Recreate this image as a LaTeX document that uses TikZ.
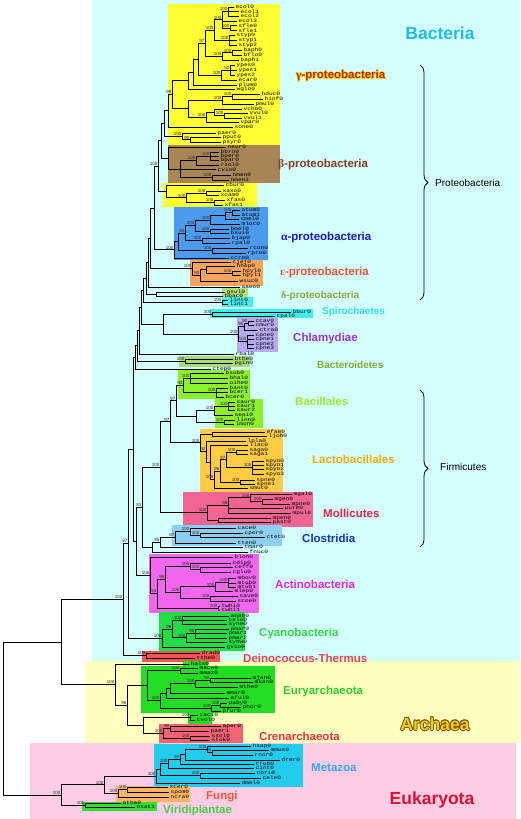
\documentclass[tikz,border=0pt]{standalone}
\usepackage{fontspec}
\setmainfont{Liberation Sans}
\newfontfamily\leaffont[FakeStretch=1.22]{Liberation Mono}
\newfontfamily\greekfont{Liberation Serif}
\usetikzlibrary{calc,decorations.pathreplacing}
\definecolor{bgB}{HTML}{D4FFFF}
\definecolor{bgA}{HTML}{FFFFC0}
\definecolor{bgE}{HTML}{FFCCE6}
\definecolor{bxGam}{HTML}{FFFF33}
\definecolor{bxBet}{HTML}{A98556}
\definecolor{bxAlp}{HTML}{4D9BEF}
\definecolor{bxEps}{HTML}{F5A45A}
\definecolor{bxDel}{HTML}{B4E07A}
\definecolor{bxSpi}{HTML}{44EEEE}
\definecolor{bxChl}{HTML}{B9A9F2}
\definecolor{bxBct}{HTML}{A8DC78}
\definecolor{bxBac}{HTML}{8CF02E}
\definecolor{bxLac}{HTML}{FFCC44}
\definecolor{bxMol}{HTML}{F26492}
\definecolor{bxClo}{HTML}{8CCFF0}
\definecolor{bxAct}{HTML}{F266F0}
\definecolor{bxCya}{HTML}{22DD44}
\definecolor{bxDei}{HTML}{F25555}
\definecolor{bxEur}{HTML}{22DD22}
\definecolor{bxCre}{HTML}{F26474}
\definecolor{bxMet}{HTML}{22CCEE}
\definecolor{bxFun}{HTML}{FFB565}
\definecolor{bxVir}{HTML}{33DD33}
\definecolor{tBac}{HTML}{22BBEE}
\definecolor{tGam}{HTML}{B42818}
\definecolor{tGamO}{HTML}{FFD800}
\definecolor{tBet}{HTML}{8E3A22}
\definecolor{tAlp}{HTML}{1A1ACC}
\definecolor{tEps}{HTML}{EE5533}
\definecolor{tDel}{HTML}{88AA33}
\definecolor{tSpi}{HTML}{33DDEE}
\definecolor{tChl}{HTML}{9933DD}
\definecolor{tBacl}{HTML}{99EE33}
\definecolor{tLac}{HTML}{FFAA00}
\definecolor{tMol}{HTML}{EE2244}
\definecolor{tClo}{HTML}{1133BB}
\definecolor{tAct}{HTML}{EE22DD}
\definecolor{tCya}{HTML}{33DD44}
\definecolor{tDei}{HTML}{EE4444}
\definecolor{tEur}{HTML}{33CC33}
\definecolor{tArc}{HTML}{FFCC00}
\definecolor{tArcO}{HTML}{6B5000}
\definecolor{tCre}{HTML}{EE3344}
\definecolor{tMet}{HTML}{33AAEE}
\definecolor{tEuk}{HTML}{DD1133}
\definecolor{tFun}{HTML}{FF5533}
\definecolor{tVir}{HTML}{44CC44}
\tikzset{
  edge/.style={line width=0.75pt, line cap=rect, black},
  leaf/.style={anchor=west, inner sep=0pt, xshift=1.5pt, font=\leaffont\fontsize{5}{5}\selectfont},
  bsl/.style={anchor=south east, inner sep=0.1pt, xshift=-0.3pt, yshift=0.4pt, font=\fontsize{4.5}{4.5}\selectfont, text=black!85},
  clade/.style={anchor=west, inner sep=0pt, font=\bfseries\fontsize{11.5}{12}\selectfont},
  plain/.style={anchor=west, inner sep=0pt, font=\fontsize{10}{11}\selectfont},
  big/.style={inner sep=0pt, font=\bfseries\fontsize{17.5}{18}\selectfont},
  bracestyle/.style={decorate, decoration={brace, amplitude=8pt}, line width=0.8pt},
}
\newcommand\lf[3]{\coordinate (#1) at (#2,#3); \node[leaf] (#1-t) at (#1) {#1};}
\newcommand\nd[4]{%
  \global\let\firstkid\relax
  \foreach \kid in {#4}{\ifx\firstkid\relax\xdef\firstkid{\kid}\fi\xdef\lastkid{\kid}}%
  \path let \p1=($(\firstkid)!0.5!(\lastkid)$) in coordinate (#1) at (#2pt,\y1);
  \foreach \kid in {#4}{\draw[edge] (#1) |- (\kid);}%
  \if\relax\detokenize{#3}\relax\else\node[bsl] (#1-b) at (#1) {#3};\fi}
\begin{document}
\begin{tikzpicture}[x=1pt,y=-1pt]
\useasboundingbox (0,0) rectangle (520,819);
\fill[white] (0,0) rectangle (520,819);
\fill[bgB] (92,0) rectangle (520,661);
\fill[bgA] (85,661) rectangle (520,743);
\fill[bgE] (30,743) rectangle (516,819);
% clade boxes
\fill[bxGam] (168,4) rectangle (280,145);
\fill[bxBet] (168,145) rectangle (280,183);
\fill[bxGam] (163,183) rectangle (257,207);
\fill[bxAlp] (174,207) rectangle (268,260);
\fill[bxEps] (190,260) rectangle (263,286);
\fill[bxDel] (222,288) rectangle (248,298);
\fill[bxSpi] (222,297) rectangle (253,307);
\fill[bxSpi] (210,309) rectangle (313,318);
\fill[bxChl] (237,318) rectangle (278,352);
\fill[bxBct] (179,356) rectangle (250,367);
\fill[bxBac] (178,370) rectangle (250,399);
\fill[bxBac] (215,399) rectangle (263,428);
\fill[bxLac] (200,429) rectangle (283,492);
\fill[bxMol] (183,492) rectangle (313,527);
\fill[bxClo] (172,525) rectangle (282,546);
\fill[bxAct] (149,554) rectangle (259,613);
\fill[bxCya] (159,612) rectangle (245,651);
\fill[bxDei] (142,651) rectangle (220,662);
\fill[bxEur] (183,661) rectangle (208,667);
\fill[bxEur] (141,666) rectangle (275,713);
\fill[bxEur] (188,713) rectangle (212,724);
\fill[bxCre] (159,724) rectangle (243,743);
\fill[bxMet] (154,744) rectangle (303,787);
\fill[bxFun] (116,786) rectangle (190,802);
\fill[bxVir] (82,802) rectangle (157,811);
% leaves
\lf{ecol0}{234}{7}\lf{ecol1}{239}{11.5}\lf{ecol2}{239}{16}\lf{ecol3}{237}{21}
\lf{sfle0}{237}{25.5}\lf{sfle1}{237}{30.5}\lf{styp0}{235}{35}\lf{styp1}{237}{40}
\lf{styp2}{237}{45}\lf{baph0}{242}{50.5}\lf{bflo0}{242}{55}\lf{baph1}{239}{60}
\lf{ypes0}{235}{65}\lf{ypes1}{237}{70}\lf{ypes2}{235}{75}\lf{ecar0}{237}{80}
\lf{plum0}{237}{85}\lf{wglo0}{235}{89}\lf{hduc0}{260}{94}\lf{hinf0}{263}{99}
\lf{pmul0}{254}{104}\lf{vcho0}{242}{109}\lf{vvul0}{248}{113}\lf{vvul1}{242}{118}
\lf{vpar0}{239}{122}\lf{sone0}{233}{127}\lf{paer0}{216}{133}\lf{pput0}{221}{137.5}
\lf{psyr0}{221}{142}
\lf{neur0}{226}{147}\lf{bbro0}{219}{152}\lf{bper0}{219}{156}\lf{bpar0}{219}{160.5}
\lf{rsol0}{219}{165}\lf{cvio0}{216}{169.5}\lf{nmen0}{231}{175}\lf{nmen1}{229}{180}
\lf{cbur0}{224}{185}\lf{xaxo0}{221}{191}\lf{xcam0}{219}{195}\lf{xfas0}{225}{200}\lf{xfas1}{223}{205}
\lf{atum0}{240}{210}\lf{atum1}{240}{215}\lf{smel0}{239}{219}\lf{mlot0}{240}{224}
\lf{bmel0}{229}{229}\lf{bsui0}{229}{233}\lf{bjap0}{230}{238}\lf{rpal0}{230}{243}
\lf{rcon0}{248}{248}\lf{rpro0}{246}{253}\lf{ccre0}{229}{258}
\lf{cjej0}{231}{262}\lf{hhep0}{235}{266.5}\lf{hpyl0}{241}{271}\lf{hpyl1}{241}{275}
\lf{wsuc0}{238}{281}\lf{aaeo0}{240}{287}
\lf{gsul0}{225}{292}\lf{bbac0}{223}{296}
\lf{lint0}{228}{300}\lf{lint1}{228}{304}\lf{bbur0}{291}{312}\lf{tpal0}{275}{316}
\lf{ccav0}{254}{321}\lf{cmur0}{254}{325}\lf{ctra0}{258}{330}\lf{cpne0}{254}{335}
\lf{cpne1}{254}{339}\lf{cpne2}{254}{344}\lf{cpne3}{254}{348}
\lf{rbal0}{234}{354}\lf{bthe0}{233}{359}\lf{pgin0}{233}{363}\lf{ctep0}{211}{369}
\lf{bsub0}{224}{373}\lf{bhal0}{228}{378}\lf{oihe0}{228}{383}\lf{bant0}{228}{388}
\lf{bcer1}{228}{392}\lf{bcer0}{224}{397}\lf{saur0}{235}{402}\lf{saur1}{235}{406}
\lf{saur2}{235}{410}\lf{sepi0}{233}{415}\lf{linn0}{235}{420}\lf{lmon0}{234}{424}
\lf{efae0}{265}{432}\lf{ljoh0}{267}{436}\lf{lpla0}{246}{441}\lf{llac0}{248}{445}
\lf{saga0}{248}{450}\lf{saga1}{248}{454}\lf{spyo0}{264}{461}\lf{spyo1}{264}{465}
\lf{spyo2}{264}{469}\lf{spyo3}{264}{474}\lf{spne0}{255}{480}\lf{spne1}{255}{484}
\lf{smut0}{248}{488}
\lf{mgal0}{292}{494}\lf{mgen0}{273}{499}\lf{mpne0}{290}{504}\lf{uure0}{283}{508}
\lf{mpul0}{291}{513}\lf{mpen0}{271}{518}\lf{past0}{271}{522}
\lf{cace0}{236}{528}\lf{cper0}{243}{533}\lf{ctet0}{265}{537}\lf{tten0}{236}{543}
\lf{tmar0}{243}{547}\lf{fnuc0}{248}{552}
\lf{blon0}{233}{557}\lf{cdip0}{231}{563}\lf{ceff0}{233}{567}\lf{cglu0}{231}{572}
\lf{mbov0}{236}{578}\lf{mtub0}{236}{583}\lf{mtub1}{236}{587}\lf{mlep0}{233}{591}
\lf{save0}{238}{596}\lf{scoe0}{236}{601}\lf{twhi0}{220}{606}\lf{twhi1}{220}{610}
\lf{anab0}{229}{616}\lf{telo0}{227}{620}\lf{syne0}{227}{624}\lf{pmar0}{229}{629}
\lf{pmar1}{227}{633}\lf{pmar2}{227}{638}\lf{synw0}{227}{642}\lf{gvio0}{225}{647}
\lf{drad0}{200}{653}\lf{tthe0}{195}{658}
\lf{hals0}{189}{664}\lf{mace0}{198}{668}\lf{mmaz0}{198}{673}\lf{mjan0}{251}{678}
\lf{mkan0}{253}{682}\lf{mthe0}{238}{687}\lf{mmar0}{225}{693}\lf{aful0}{229}{698}
\lf{paby0}{227}{703}\lf{phor0}{241}{707}\lf{pfur0}{221}{711}\lf{taci0}{198}{715}
\lf{tvol0}{195}{720}\lf{aper0}{221}{726}\lf{paer1}{209}{731}\lf{ssol0}{210}{736}
\lf{stok0}{210}{740}
\lf{hsap0}{251}{746}\lf{mmus0}{269}{750}\lf{rnor0}{253}{755}\lf{drer0}{280}{760}
\lf{trub0}{254}{764}\lf{cint0}{254}{768}\lf{cbri0}{255}{773}\lf{cele0}{261}{778}
\lf{dmel0}{240}{783}\lf{scer0}{168}{787}\lf{spom0}{169}{792}\lf{ncra0}{169}{797}
\lf{atha0}{121}{803}\lf{osat1}{135}{807}
% gamma
\nd{E1}{228}{100}{ecol0,ecol1,ecol2}
\nd{S1}{230}{100}{sfle0,sfle1}
\nd{E2}{222}{100}{E1,ecol3,S1}
\nd{ST}{229}{100}{styp0,styp1,styp2}
\nd{E3}{214}{100}{E2,ST}
\nd{BU1}{232}{100}{baph0,bflo0}
\nd{BU}{222}{100}{BU1,baph1}
\nd{EN1}{205}{97}{E3,BU}
\nd{YP}{230}{50}{ypes0,ypes1,ypes2}
\nd{YP2}{221}{100}{YP,ecar0}
\nd{EN2}{198}{}{EN1,YP2}
\nd{EN3}{193}{}{EN2,plum0}
\nd{EN4}{188}{}{EN3,wglo0}
\nd{PA1}{232}{100}{hduc0,hinf0}
\nd{PA}{222}{100}{PA1,pmul0}
\nd{VB1}{224}{100}{vvul0,vvul1}
\nd{VB2}{214}{}{vcho0,VB1}
\nd{VB3}{206}{100}{VB2,vpar0}
\nd{PV}{188}{}{PA,VB3}
\nd{G1}{172}{99}{EN4,PV}
\nd{G2}{168}{}{G1,sone0}
\nd{PS1}{190}{90}{pput0,psyr0}
\nd{PS}{182}{100}{paer0,PS1}
\nd{G3}{164}{}{G2,PS}
% beta
\nd{BB1}{210}{100}{bbro0,bper0,bpar0}
\nd{BB2}{196}{100}{BB1,rsol0}
\nd{NM}{212}{100}{nmen0,nmen1}
\nd{BB3}{180}{}{BB2,cvio0,NM}
\nd{BE}{168}{}{neur0,BB3}
\nd{PB1}{161}{}{G3,BE}
\nd{XA1}{206}{100}{xaxo0,xcam0}
\nd{XF}{214}{100}{xfas0,xfas1}
\nd{XA}{186}{100}{XA1,XF}
\nd{XC}{166}{}{cbur0,XA}
\nd{PB2}{158}{100}{PB1,XC}
% alpha
\nd{AT}{232}{100}{atum0,atum1}
\nd{AT2}{225}{}{AT,smel0}
\nd{AT3}{210}{100}{AT2,mlot0}
\nd{BR}{210}{100}{bmel0,bsui0}
\nd{RH1}{195}{100}{AT3,BR}
\nd{BJ}{202}{100}{bjap0,rpal0}
\nd{AL1}{185}{92}{RH1,BJ}
\nd{RK}{212}{100}{rcon0,rpro0}
\nd{AL2}{178}{}{AL1,RK}
\nd{AL3}{174}{100}{AL2,ccre0}
\nd{PB3}{154}{}{PB2,AL3}
% epsilon etc
\nd{HP}{232}{100}{hpyl0,hpyl1}
\nd{HH}{206}{}{hhep0,HP}
\nd{HW}{200}{90}{HH,wsuc0}
\nd{EP}{192}{100}{cjej0,HW}
\nd{PB4}{150}{}{PB3,EP}
\nd{PB5}{148}{}{PB4,aaeo0}
\nd{DL}{156}{}{gsul0,bbac0}
\nd{PB6}{146}{}{PB5,DL}
\nd{LI}{222}{100}{lint0,lint1}
\nd{UP1}{143}{}{PB6,LI}
\nd{BT}{212}{100}{bbur0,tpal0}
\nd{CM1}{248}{90}{ccav0,cmur0}
\nd{CM2}{244}{90}{CM1,ctra0}
\nd{CP}{247}{100}{cpne0,cpne1,cpne2,cpne3}
\nd{CH}{238}{100}{CM2,CP}
\nd{SC}{163}{}{BT,CH}
\nd{UP2}{141}{}{UP1,SC}
\nd{UP3}{139}{}{UP2,rbal0}
\nd{BG}{185}{100}{bthe0,pgin0}
\nd{UP4}{137}{}{UP3,BG}
\nd{UP5}{135}{}{UP4,ctep0}
% firmicutes
\nd{BS}{190}{100}{bsub0,bhal0,oihe0}
\nd{BC1}{216}{100}{bant0,bcer1,bcer0}
\nd{BAS}{183}{90}{BS,BC1}
\nd{SA}{228}{100}{saur0,saur1,saur2}
\nd{SA2}{214}{100}{SA,sepi0}
\nd{LI2}{224}{100}{linn0,lmon0}
\nd{SL}{196}{}{SA2,LI2}
\nd{BCL}{176}{97}{BAS,SL}
\nd{EL}{212}{}{efae0,ljoh0}
\nd{SG}{236}{100}{saga0,saga1}
\nd{SPY}{252}{100}{spyo0,spyo1,spyo2,spyo3}
\nd{ST1}{226}{97}{SG,SPY}
\nd{SPN}{240}{100}{spne0,spne1}
\nd{ST2}{220}{96}{ST1,SPN}
\nd{ST3}{214}{100}{ST2,smut0}
\nd{LL}{210}{}{llac0,ST3}
\nd{LL2}{206}{92}{lpla0,LL}
\nd{LA}{200}{100}{EL,LL2}
\nd{BL}{170}{97}{BCL,LA}
\nd{MG}{262}{100}{mgen0,mpne0}
\nd{MG2}{250}{100}{mgal0,MG}
\nd{MG3}{228}{98}{MG2,uure0,mpul0}
\nd{MP}{218}{}{mpen0,past0}
\nd{MG4}{207}{100}{MG3,MP}
\nd{FIR}{160}{100}{BL,MG4}
\nd{CP1}{200}{100}{cper0,ctet0}
\nd{CL1}{190}{100}{cace0,CP1}
\nd{CL2}{175}{87}{CL1,tten0}
\nd{CL3}{160}{95}{CL2,tmar0}
\nd{CL4}{152}{}{CL3,fnuc0}
\nd{B3}{142}{81}{FIR,CL4}
% actinobacteria
\nd{CO1}{200}{100}{ceff0,cglu0}
\nd{CO}{190}{100}{cdip0,CO1}
\nd{MB}{228}{100}{mbov0,mtub0,mtub1}
\nd{MB2}{215}{100}{MB,mlep0}
\nd{SV}{210}{100}{save0,scoe0}
\nd{MS}{180}{100}{MB2,SV}
\nd{AC1}{165}{95}{CO,MS}
\nd{TW}{218}{100}{twhi0,twhi1}
\nd{AC2}{157}{54}{AC1,TW}
\nd{AC}{150}{100}{blon0,AC2}
\nd{B4}{136}{}{B3,AC}
\nd{B2}{133}{}{UP5,B4}
% cyanobacteria
\nd{AN}{182}{100}{anab0,telo0,syne0}
\nd{PM}{195}{95}{pmar0,pmar1,pmar2}
\nd{PSY}{186}{100}{PM,synw0}
\nd{CY1}{172}{96}{AN,PSY}
\nd{CY}{162}{100}{CY1,gvio0}
\nd{BK1}{128}{97}{B2,CY}
\nd{DT}{146}{100}{drad0,tthe0}
\nd{BROOT}{123}{100}{BK1,DT}
% archaea
\nd{MSA}{180}{100}{mace0,mmaz0}
\nd{MJ}{210}{94}{mjan0,mkan0}
\nd{MJ2}{195}{100}{MJ,mthe0}
\nd{MM}{170}{}{MJ2,mmar0}
\nd{EU1}{166}{}{MM,aful0}
\nd{PY1}{220}{100}{paby0,phor0}
\nd{PY}{211}{100}{PY1,pfur0}
\nd{EU2}{160}{100}{EU1,PY}
\nd{EU3}{147}{}{MSA,EU2}
\nd{TH}{190}{100}{taci0,tvol0}
\nd{CR1}{170}{90}{aper0,paer1}
\nd{SS}{190}{100}{ssol0,stok0}
\nd{CR}{163}{100}{CR1,SS}
\nd{CRT}{143}{}{TH,CR}
\nd{A96}{127}{96}{EU3,CRT}
\nd{AR}{115}{100}{hals0,A96}
\nd{BA0}{61}{}{BROOT,AR}
% eukaryota
\nd{HM1}{212}{90}{mmus0,rnor0}
\nd{HM}{207}{100}{hsap0,HM1}
\nd{VT1}{185}{}{HM,drer0}
\nd{VT2}{180}{90}{VT1,trub0}
\nd{VT3}{168}{100}{VT2,cint0}
\nd{CB}{200}{100}{cbri0,cele0}
\nd{VT4}{160}{}{VT3,CB}
\nd{MZ}{156}{100}{VT4,dmel0}
\nd{F1}{127}{100}{scer0,spom0}
\nd{FU}{118}{100}{F1,ncra0}
\nd{OP}{104}{100}{MZ,FU}
\nd{VP}{85}{100}{atha0,osat1}
\nd{EUK}{61}{100}{OP,VP}
\nd{ROOT}{3}{}{BA0,EUK}
% clade labels
\coordinate (gampos) at (296,76);
\foreach \dx/\dy [count=\i] in {-0.45/-0.45,0.45/-0.45,-0.45/0.45,0.45/0.45,0.6/0,-0.6/0,0/0.6,0/-0.6}
  {\node[clade, text=tGamO] (gamo\i) at ([shift={(\dx pt,\dy pt)}]gampos) {{\greekfont γ}-proteobacteria};}
\node[clade, text=tGam] (gam) at (gampos) {{\greekfont γ}-proteobacteria};
\node[clade, text=tBet] (bet) at (278,165) {{\greekfont β}-proteobacteria};
\node[clade, text=tAlp] (alp) at (281,238) {{\greekfont α}-proteobacteria};
\node[clade, text=tEps] (eps) at (280,273) {{\greekfont ε}-proteobacteria};
\node[clade, text=tDel, font=\bfseries\fontsize{10}{11}\selectfont] (del) at (281,296) {{\greekfont δ}-proteobacteria};
\node[clade, text=tSpi, font=\bfseries\fontsize{10}{11}\selectfont] (spi) at (322,312) {Spirochaetes};
\node[clade, text=tChl] (chl) at (293,339) {Chlamydiae};
\node[clade, text=tDel, font=\bfseries\fontsize{10}{11}\selectfont] (bct) at (317,365) {Bacteroidetes};
\node[clade, text=tBacl] (bacl) at (295,401) {Bacillales};
\node[clade, text=tLac] (lac) at (312,459) {Lactobacillales};
\node[clade, text=tMol] (mol) at (323,513) {Mollicutes};
\node[clade, text=tClo] (clo) at (302,538) {Clostridia};
\node[clade, text=tAct] (act) at (275,584) {Actinobacteria};
\node[clade, text=tCya] (cya) at (259,634) {Cyanobacteria};
\node[clade, text=tDei] (dei) at (243,658) {Deinococcus-Thermus};
\node[clade, text=tEur] (eur) at (283,692) {Euryarchaeota};
\node[clade, text=tCre] (cre) at (259,736) {Crenarchaeota};
\node[clade, text=tMet] (met) at (311,768) {Metazoa};
\node[clade, text=tFun] (fun) at (206,797) {Fungi};
\node[clade, text=tVir] (vir) at (163,811) {Viridiplantae};
\node[big, text=tBac] (bacteria) at (440,33) {Bacteria};
\coordinate (arcpos) at (435,724);
\foreach \dx/\dy [count=\i] in {-0.6/-0.6,0.6/-0.6,-0.6/0.6,0.6/0.6,0.8/0,-0.8/0,0/0.8,0/-0.8}
  {\node[big, text=tArcO] (arco\i) at ([shift={(\dx pt,\dy pt)}]arcpos) {Archaea};}
\node[big, text=tArc] (archaea) at (arcpos) {Archaea};
\node[big, text=tEuk] (eukaryota) at (432,800) {Eukaryota};
% braces
\coordinate (pbt) at (420,65);
\coordinate (pbb) at (420,300);
\draw[bracestyle] (pbt) -- (pbb);
\node[plain] (proteo) at (435,183) {Proteobacteria};
\coordinate (fmt) at (420,390);
\coordinate (fmb) at (420,547);
\draw[bracestyle] (fmt) -- (fmb);
\node[plain] (firm) at (440,467) {Firmicutes};
\end{tikzpicture}
\end{document}
